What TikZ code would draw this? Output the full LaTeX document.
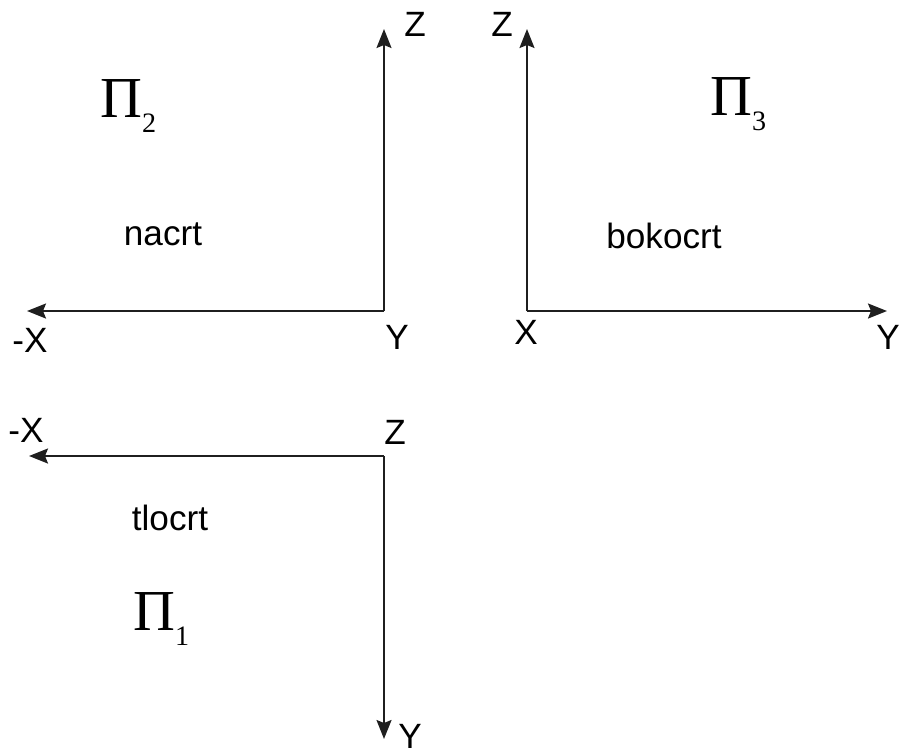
\documentclass[tikz,border=0pt]{standalone}
\usepackage{fontspec}
\setmainfont{Liberation Sans}
\newfontfamily\planefont{Liberation Serif}
\usepackage{tikz}
\usetikzlibrary{arrows.meta}
\colorlet{axisink}{black!88}
\tikzset{
  axis/.style={-{Stealth[length=3.8mm, width=3.0mm, inset=0.6mm]}, line width=1.1pt, draw=axisink},
  axlabel/.style={font=\fontsize{20}{20}\selectfont, text=black, inner sep=0pt},
  viewname/.style={font=\fontsize{20}{20}\selectfont, text=black, inner sep=0pt, anchor=base},
  plane/.style={font=\planefont\fontsize{33}{33}\selectfont, text=black, inner sep=0pt, anchor=base west},
}
\newcommand{\planesub}[1]{{\fontsize{16}{16}\selectfont\raisebox{-9pt}{#1}}}

\begin{document}
\begin{tikzpicture}[x=0.02cm,y=-0.02cm]
\useasboundingbox (0,0) rectangle (900,755);
% origins and axis ends
\coordinate (o2) at (384,311);
\coordinate (z2) at (384,29);
\coordinate (x2) at (27,311);
\coordinate (o3) at (527,311);
\coordinate (z3) at (527,29);
\coordinate (y3) at (887,311);
\coordinate (o1) at (384,456);
\coordinate (x1) at (29,456);
\coordinate (y1) at (384,739);
% the three pairs of axes
\draw[axis] (o2) -- (z2);
\draw[axis] (o2) -- (x2);
\draw[axis] (o3) -- (z3);
\draw[axis] (o3) -- (y3);
\draw[axis] (o1) -- (x1);
\draw[axis] (o1) -- (y1);
% axis names
\node[axlabel] (lz2) at (415,24) {Z};
\node[axlabel] (lx2) at (30,340) {-X};
\node[axlabel] (ly2) at (397,337) {Y};
\node[axlabel] (lz3) at (502,24) {Z};
\node[axlabel] (lx3) at (526,332) {X};
\node[axlabel] (ly3) at (888,337) {Y};
\node[axlabel] (lx1) at (26,430) {-X};
\node[axlabel] (lz1) at (395,432) {Z};
\node[axlabel] (ly1) at (410,736) {Y};
% planes and views
\node[plane] (p2) at (100,117) {Π\planesub{2}};
\node[plane] (p3) at (710,115) {Π\planesub{3}};
\node[plane] (p1) at (133,630) {Π\planesub{1}};
\node[viewname] (nacrt) at (163,245) {nacrt};
\node[viewname] (bokocrt) at (664,248) {bokocrt};
\node[viewname] (tlocrt) at (170,530) {tlocrt};
\end{tikzpicture}
\end{document}
